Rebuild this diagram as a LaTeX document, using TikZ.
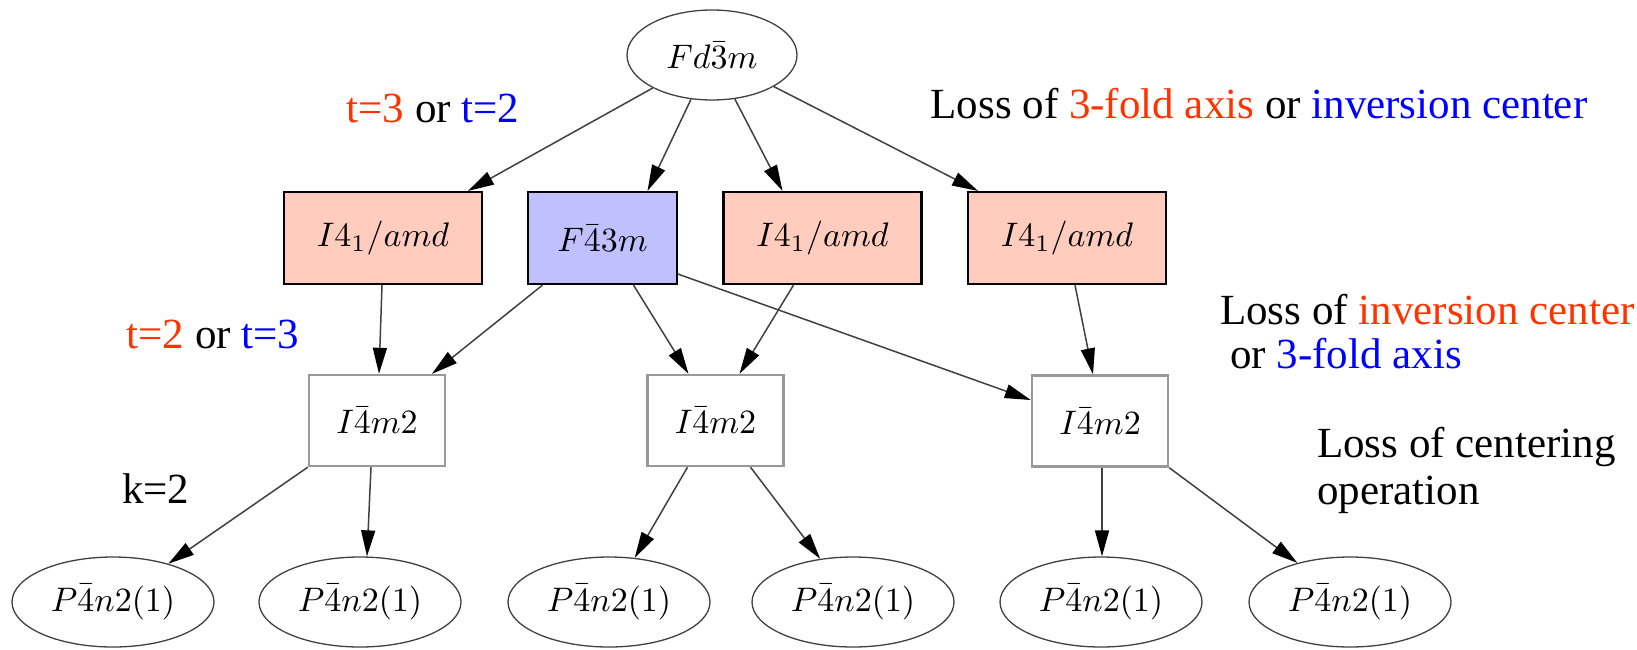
\documentclass[tikz,border=0pt]{standalone}
\usepackage{graphicx}
\usepackage[no-math]{fontspec}
\setmainfont{Liberation Serif}
\usetikzlibrary{shapes.geometric,arrows.meta}
\definecolor{redt}{RGB}{255,51,0}
\definecolor{bluet}{RGB}{0,0,255}
\definecolor{pinkfill}{RGB}{255,204,190}
\definecolor{bluefill}{RGB}{192,192,255}
\newcommand\mth[1]{\scalebox{3.4}{$#1$}}
\newcommand\labfs{\fontsize{43}{47}\selectfont}
\begin{document}
\begin{tikzpicture}[x=1pt,y=-1pt,
  ell/.style={ellipse, draw=black!75, line width=1.3pt, minimum width=202pt, minimum height=90pt, inner sep=0pt},
  pbox/.style={rectangle, draw=black, line width=2.2pt, fill=pinkfill, minimum width=198pt, minimum height=92pt, inner sep=0pt},
  bbox/.style={pbox, fill=bluefill, minimum width=149pt},
  wbox/.style={rectangle, draw=black!40, line width=2.4pt, fill=white, minimum width=136pt, minimum height=91pt, inner sep=0pt},
  edge/.style={draw=black!75, line width=1.5pt, -{Triangle[length=26pt,width=14pt,color=black]}},
  lab/.style={inner sep=0pt, font=\labfs}
]
\useasboundingbox (0,0) rectangle (1637,649);
% nodes
\node[ell, minimum width=170pt, minimum height=90pt] (top) at (712,55) {\mth{Fd\bar{3}m}};
\node[pbox] (b1) at (383,238) {\mth{I4_1/amd}};
\node[bbox] (b2) at (602.5,238) {\mth{F\bar{4}3m}};
\node[pbox] (b3) at (822.5,238) {\mth{I4_1/amd}};
\node[pbox] (b4) at (1067,238) {\mth{I4_1/amd}};
\node[wbox] (A) at (377,420.5) {\mth{I\bar{4}m2}};
\node[wbox] (B) at (715.5,420.5) {\mth{I\bar{4}m2}};
\node[wbox] (C) at (1100,421) {\mth{I\bar{4}m2}};
\node[ell] (e1) at (113,602) {\mth{P\bar{4}n2(1)}};
\node[ell] (e2) at (360,602) {\mth{P\bar{4}n2(1)}};
\node[ell] (e3) at (609,602) {\mth{P\bar{4}n2(1)}};
\node[ell] (e4) at (853,602) {\mth{P\bar{4}n2(1)}};
\node[ell] (e5) at (1101,602) {\mth{P\bar{4}n2(1)}};
\node[ell] (e6) at (1350,602) {\mth{P\bar{4}n2(1)}};
% edges
\draw[edge] (top) -- ([xshift=85pt]b1.north);
\draw[edge] (top) -- ([xshift=45pt]b2.north);
\draw[edge] (top) -- ([xshift=-40pt]b3.north);
\draw[edge] (top) -- ([xshift=-89pt]b4.north);
\draw[edge] ([xshift=-1pt]b1.south) -- ([xshift=2pt]A.north);
\draw[edge] ([xshift=-60pt]b2.south) -- ([xshift=55pt]A.north);
\draw[edge] ([xshift=31pt]b2.south) -- ([xshift=-27pt]B.north);
\draw[edge] ([yshift=11pt]b2.south east) -- ([yshift=21pt]C.west);
\draw[edge] ([xshift=-29pt]b3.south) -- ([xshift=24pt]B.north);
\draw[edge] ([xshift=8pt]b4.south) -- ([xshift=-7pt]C.north);
\draw[edge] (A.south west) -- (e1);
\draw[edge] ([xshift=-6pt]A.south) -- ([xshift=7pt]e2.north);
\draw[edge] ([xshift=-28pt]B.south) -- (e3);
\draw[edge] ([xshift=35pt]B.south) -- (e4);
\draw[edge] ([xshift=2pt]C.south) -- ([xshift=1pt]e5.north);
\draw[edge] (C.south east) -- (e6);
% labels
\node[lab, anchor=base] (l1) at (433,122) {\textcolor{redt}{t=3} or \textcolor{bluet}{t=2}};
\node[lab, anchor=base] (l2) at (1259,118) {Loss of \textcolor{redt}{3-fold axis} or \textcolor{bluet}{inversion center}};
\node[lab, anchor=base] (l3) at (213,348) {\textcolor{redt}{t=2} or \textcolor{bluet}{t=3}};
\node[lab, anchor=base west] (l4a) at (1220,324) {Loss of \textcolor{redt}{inversion center}};
\node[lab, anchor=base west] (l4b) at (1230,368) {or \textcolor{bluet}{3-fold axis}};
\node[lab, anchor=base west] (l5a) at (1317,457) {Loss of centering};
\node[lab, anchor=base west] (l5b) at (1317,504) {operation};
\node[lab, anchor=base west] (l6) at (122,503) {k=2};
\end{tikzpicture}
\end{document}
